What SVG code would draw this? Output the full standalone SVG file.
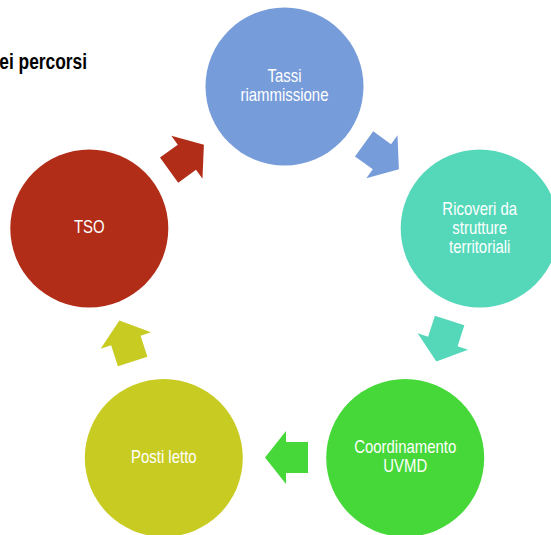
<svg xmlns="http://www.w3.org/2000/svg" xmlns:xlink="http://www.w3.org/1999/xlink" width="551" height="535" viewBox="0 0 551 535">
<style>
.lbl{font-family:"Liberation Sans",Arial,sans-serif;font-size:18px;fill:#ffffff;text-anchor:middle}
.title{font-family:"Liberation Sans",Arial,sans-serif;font-size:22px;font-weight:bold;fill:#000000}
</style>
<defs>
<path id="arr" d="M21.5,0 L0.5,-26.5 L0.5,-15.5 L-21.5,-15.5 L-21.5,15.5 L0.5,15.5 L0.5,26.5 Z"/>
</defs>
<rect width="551" height="535" fill="#ffffff"/>
<text class="title" transform="scale(0.79 1)" x="-1" y="69.5">ei percorsi</text>
<g id="connectors">
<use xlink:href="#arr" href="#arr" fill="#779CDA" transform="translate(381.5 156.5) rotate(36)"/>
<use xlink:href="#arr" href="#arr" fill="#55D8B9" transform="translate(443 341) rotate(108)"/>
<use xlink:href="#arr" href="#arr" fill="#45D838" transform="translate(286.5 457.5) rotate(180)"/>
<use xlink:href="#arr" href="#arr" fill="#C8CB22" transform="translate(126 341) rotate(252)"/>
<use xlink:href="#arr" href="#arr" fill="#B22D18" transform="translate(186.5 157.5) rotate(324)"/>
</g>
<g id="tassi">
<circle cx="284.5" cy="86.5" r="79" fill="#779CDA"/>
<text class="lbl" transform="translate(284.5 0) scale(0.83 1)" x="0" y="81.7">Tassi</text>
<text class="lbl" transform="translate(284.5 0) scale(0.83 1)" x="0" y="100.7">riammissione</text>
</g>
<g id="ricoveri">
<circle cx="479.7" cy="228.4" r="79" fill="#55D8B9"/>
<text class="lbl" transform="translate(479.7 0) scale(0.83 1)" x="0" y="215.3">Ricoveri da</text>
<text class="lbl" transform="translate(479.7 0) scale(0.83 1)" x="0" y="234.3">strutture</text>
<text class="lbl" transform="translate(479.7 0) scale(0.83 1)" x="0" y="253.3">territoriali</text>
</g>
<g id="coordinamento">
<circle cx="405.2" cy="457.9" r="79" fill="#45D838"/>
<text class="lbl" transform="translate(405.2 0) scale(0.83 1)" x="0" y="453.3">Coordinamento</text>
<text class="lbl" transform="translate(405.2 0) scale(0.83 1)" x="0" y="472.3">UVMD</text>
</g>
<g id="posti">
<circle cx="163.8" cy="457.9" r="79" fill="#C8CB22"/>
<text class="lbl" transform="translate(163.8 0) scale(0.83 1)" x="0" y="463.3">Posti letto</text>
</g>
<g id="tso">
<circle cx="89.3" cy="228.4" r="79" fill="#B22D18"/>
<text class="lbl" transform="translate(89.3 0) scale(0.83 1)" x="0" y="233.3">TSO</text>
</g>
</svg>
